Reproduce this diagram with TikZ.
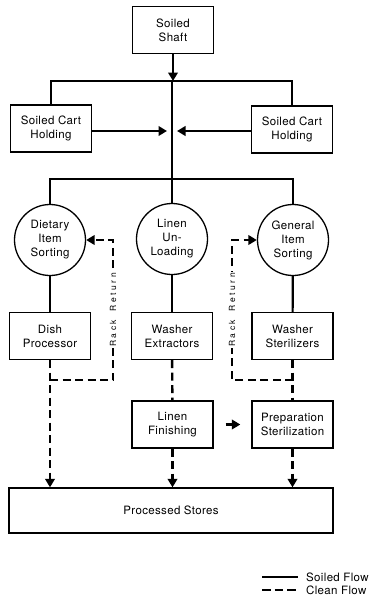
\documentclass[tikz,border=0pt]{standalone}
\usepackage{fontspec}
\setmainfont{TeX Gyre Heros}[LetterSpace=3]
\usepackage{tikz}
\usetikzlibrary{arrows.meta}

\begin{document}
\begin{tikzpicture}[x=1pt,y=-1pt,
	>={Triangle[width=9.5pt,length=8.5pt]},
	box/.style={draw,line width=1.3pt,minimum width=81pt,minimum height=47pt,inner sep=1pt,align=center,font=\fontsize{11.5}{14}\selectfont},
	sorter/.style={draw,circle,line width=1.3pt,minimum size=71pt,inner sep=0pt,align=center,font=\fontsize{11.5}{14}\selectfont},
	soiled/.style={line width=2.2pt},
	clean/.style={line width=2.4pt,dash pattern=on 8pt off 4.5pt},
	rack/.style={fill=white,rotate=90,inner sep=1.5pt,font=\fontsize{8.5}{8.5}\selectfont\addfontfeatures{LetterSpace=30}},
	legend/.style={anchor=west,inner sep=0pt,font=\fontsize{11.5}{14}\selectfont}]
\useasboundingbox (0,0) rectangle (368,605);

\node[box] (shaft) at (173,30) {Soiled\\Shaft};
\node[box] (cartL) at (51,128.5) {Soiled Cart\\Holding};
\node[box] (cartR) at (292,129.5) {Soiled Cart\\Holding};
\node[sorter] (dietary) at (50,240) {Dietary\\Item\\Sorting};
\node[sorter] (unload) at (172,239) {Linen\\Un-\\Loading};
\node[sorter] (general) at (293,240) {General\\Item\\Sorting};
\node[box] (dish) at (50,336) {Dish\\Processor};
\node[box] (washx) at (172,336) {Washer\\Extractors};
\node[box] (washs) at (292.5,336) {Washer\\Sterilizers};
\node[box] (finish) at (172.5,424.5) {Linen\\Finishing};
\node[box] (prep) at (292.5,424.5) {Preparation\\Sterilization};
\node[box,minimum width=324pt,minimum height=45pt] (stores) at (171,510.5) {Processed Stores};

\coordinate (bus1) at (172,81);
\coordinate (bus2) at (172,179);
\coordinate (hitL) at (167,131);
\coordinate (hitR) at (177,131);
\coordinate (rackL) at (50,380);
\coordinate (turnL) at (113,380);
\coordinate (rackR) at (293,380);
\coordinate (turnR) at (232,380);

% soiled side
\draw[soiled] (cartL.north) |- (bus1) -| (cartR.north);
\draw[soiled] (dietary.north) |- (bus2) -| (general.north);
\draw[soiled] (bus1) -- (bus2) -- (unload.north);
\draw[soiled,->] (shaft.south) -- (shaft.south |- bus1);
\draw[soiled,->] (cartL.east |- hitL) -- (hitL);
\draw[soiled,->] (cartR.west |- hitR) -- (hitR);
\path[soiled]
(dietary) edge (dish)
(unload) edge (washx)
(general) edge (washs);

% clean side
\draw[clean,->] (dish.south) -- (dish.south |- stores.north);
\draw[clean] (washx) -- (finish);
\draw[clean] (washs) -- (prep);
\draw[clean,->] (finish.south) -- (finish.south |- stores.north);
\draw[clean,->] (prep.south) -- (prep.south |- stores.north);
\draw[soiled,->,shorten <=12pt,shorten >=11pt] (finish.east) -- (finish.east -| prep.west);
\draw[clean,->] (rackL) -- (turnL) |- node[pos=0.25,rack] {Rack\quad Return} (dietary.east);
\draw[clean,->] (rackR) -- (turnR) |- node[pos=0.25,rack] {Rack\quad Return} (general.west);

% key
\node[legend] (soiledkey) at (306,577) {Soiled Flow};
\node[legend] (cleankey) at (306,590) {Clean Flow};
\coordinate (key1) at (262,577);
\coordinate (key2) at (262,590);
\draw[soiled] (key1) -- ([xshift=-8pt]soiledkey.west);
\draw[clean,dash pattern=on 8.5pt off 4pt] (key2) -- ([xshift=-8pt]cleankey.west);
\end{tikzpicture}
\end{document}
